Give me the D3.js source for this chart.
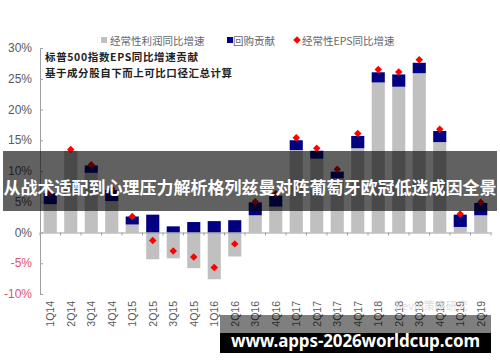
<!DOCTYPE html>
<html>
<head>
<meta charset="utf-8">
<script src="https://cdnjs.cloudflare.com/ajax/libs/d3/7.8.5/d3.min.js"></script>
<style>
body{margin:0;background:#fff;}
</style>
</head>
<body>
<svg id="basicSVG" width="500" height="362"></svg>
<script>
//数据：季度、经常性利润同比、回购贡献、经常性EPS同比（%）
var quarters = ["1Q14","2Q14","3Q14","4Q14","1Q15","2Q15","3Q15","4Q15","1Q16","2Q16","3Q16","4Q16",
	"1Q17","2Q17","3Q17","4Q17","1Q18","2Q18","3Q18","4Q18","1Q19","2Q19"];
var profitGrowth = [4.6,13.3,9.7,5.1,1.3,-4.35,-4.2,-5.8,-7.6,-3.9,2.8,4.2,13.4,12.0,8.8,13.7,24.4,23.7,25.9,14.7,0.9,2.8];
var buybackContrib = [1.8,0,1.2,1.8,1.3,2.9,1.0,1.7,1.85,2.0,2.1,1.8,1.6,1.3,1.1,2.0,1.65,2.0,1.7,1.8,2.0,2.0];
var epsGrowth = [6.5,13.5,11.0,7.1,2.6,-1.3,-3.0,-4.0,-5.7,-1.85,5.0,6.3,15.4,13.7,10.3,16.1,26.5,26.1,28.1,16.8,3.0,4.9];
var yTicks = [30,25,20,15,10,5,0,-5,-10];
var legendNames = ["经常性利润同比增速","回购贡献","经常性EPS同比增速"];
var noteLines = ["标普500指数EPS同比增速贡献","基于成分股自下而上可比口径汇总计算"];
var bannerTitle = "从战术适配到心理压力解析格列兹曼对阵葡萄牙欧冠低迷成因全景";
var siteMark = "www.apps-2026worldcup.com";
var wechatMark = "Kevin策略研究";

var barColor = ["#c0c0c0","#000080","#ff0000"];
var cjkFont = "'Noto Sans CJK SC', sans-serif";
var latinFont = "'Liberation Sans', Arial, sans-serif";

var svg = d3.select("#basicSVG");

var x = d3.scaleBand().domain(quarters).range([40,491]).paddingInner(0.36).paddingOuter(0.18);
var y = d3.scaleLinear().domain([-10,30]).range([294,48]);

//柱子：灰色（利润）+ 深蓝（回购）
var barGroup = svg.append("g");
for(var i in quarters)
{
	var q = quarters[i];
	var p = profitGrowth[i];
	var b = buybackContrib[i];
	barGroup.append("rect")
		.attr("x", x(q))
		.attr("y", y(Math.max(p,0)))
		.attr("width", x.bandwidth())
		.attr("height", Math.abs(y(p)-y(0)))
		.attr("fill", barColor[0]);
	var base = p>0 ? p : 0;//负利润时回购从0往上叠
	barGroup.append("rect")
		.attr("x", x(q))
		.attr("y", y(base+b))
		.attr("width", x.bandwidth())
		.attr("height", y(base)-y(base+b))
		.attr("fill", barColor[1]);
}

//EPS 红点
var diamond = d3.symbol().type(d3.symbolSquare).size(28);
for(var i in quarters)
{
	svg.append("path")
		.attr("d", diamond())
		.attr("transform", "translate(" + (x(quarters[i]) + x.bandwidth()/2) + "," + y(epsGrowth[i]) + ") rotate(45)")
		.attr("fill", barColor[2]);
}

//y轴
var yAxis = svg.append("g").attr("transform","translate(40,0)")
	.call(d3.axisRight(y).tickValues(yTicks).tickSize(3).tickFormat(""));
yAxis.select(".domain").attr("stroke","#a0a0a0");
yAxis.selectAll(".tick line").attr("stroke","#a0a0a0");
for(var i in yTicks)
{
	svg.append("text").text(yTicks[i] + "%")
		.attr("x", 32)
		.attr("y", y(yTicks[i]))
		.attr("text-anchor","end")
		.attr("dominant-baseline","central")
		.attr("font-family", latinFont)
		.attr("font-size", 12)
		.attr("fill", yTicks[i]<0 ? "#e0506a" : "#595959");
}

//x轴（在0%处）
var xAxis = svg.append("g").attr("transform","translate(0," + y(0) + ")")
	.call(d3.axisBottom(x).tickSize(0).tickFormat(""));
xAxis.select(".domain").attr("stroke","#a0a0a0");
for(var i=0;i<=quarters.length;i++)
{
	var tx = 40 + i*(451/quarters.length);
	svg.append("line").attr("x1",tx).attr("x2",tx).attr("y1",y(0)).attr("y2",y(0)+3).attr("stroke","#a0a0a0");
}
for(var i in quarters)
{
	svg.append("text").text(quarters[i])
		.attr("transform","translate(" + (x(quarters[i]) + x.bandwidth()/2) + ",301) rotate(-90)")
		.attr("text-anchor","end")
		.attr("dominant-baseline","central")
		.attr("font-family", latinFont)
		.attr("font-size", 10.5)
		.attr("fill","#595959");
}

//图例
var legendX = [101,227,297];
svg.append("rect").attr("x",legendX[0]).attr("y",37).attr("width",6).attr("height",6).attr("fill",barColor[0]);
svg.append("rect").attr("x",legendX[1]).attr("y",37).attr("width",6).attr("height",6).attr("fill",barColor[1]);
svg.append("path").attr("d", diamond()).attr("transform","translate(" + legendX[2] + ",40) rotate(45)").attr("fill",barColor[2]);
var legendTextX = [110,233,302];
for(var i in legendNames)
{
	svg.append("text").text(legendNames[i])
		.attr("x", legendTextX[i])
		.attr("y", 40)
		.attr("dominant-baseline","central")
		.attr("font-family", cjkFont)
		.attr("font-size", 10.5)
		.attr("fill","#666");
}

//注释
var noteWidth = [153,187];
for(var i in noteLines)
{
	svg.append("text").text(noteLines[i])
		.attr("x", 45)
		.attr("y", 56 + i*16)
		.attr("dominant-baseline","central")
		.attr("font-family", cjkFont)
		.attr("font-weight","bold")
		.attr("font-size", 10.5)
		.attr("textLength", noteWidth[i])
		.attr("fill","#222");
}

//淡水印
svg.append("text").text(wechatMark)
	.attr("x", 395).attr("y", 305)
	.attr("dominant-baseline","central")
	.attr("font-family", cjkFont)
	.attr("font-size", 11)
	.attr("fill","#dcdcdc");

//标题横幅
svg.append("rect").attr("x",3).attr("y",151).attr("width",494).attr("height",60).attr("fill","#000").attr("opacity",0.62);
svg.append("text").text(bannerTitle)
	.attr("x", 3.5).attr("y", 186)
	.attr("dominant-baseline","central")
	.attr("font-family", cjkFont)
	.attr("font-weight","bold")
	.attr("font-size", 17)
	.attr("textLength", 493)
	.attr("fill","#fff");

//底部网址
svg.append("rect").attr("x",220).attr("y",315).attr("width",271).attr("height",18).attr("fill","#000").attr("opacity",0.5);
svg.append("rect").attr("x",220).attr("y",333).attr("width",271).attr("height",20).attr("fill","#000");
svg.append("text").text(siteMark)
	.attr("x", 231).attr("y", 340)
	.attr("dominant-baseline","central")
	.attr("font-family", "'Noto Sans', sans-serif")
	.attr("font-weight","bold")
	.attr("font-size", 17)
	.attr("textLength", 249)
	.attr("fill","#fff");
</script>
</body>
</html>
